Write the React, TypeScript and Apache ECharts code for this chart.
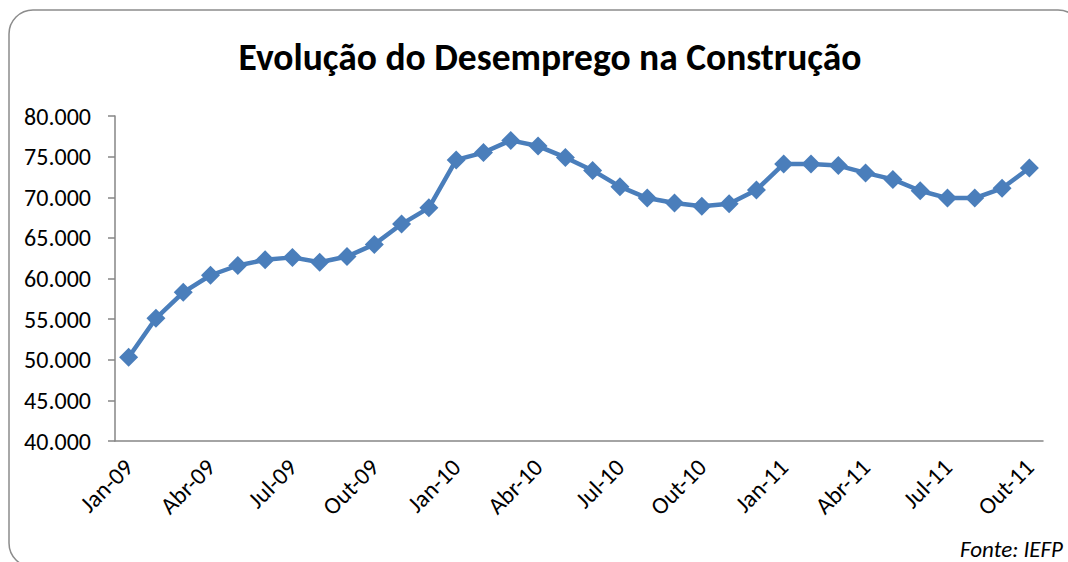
import React, { useEffect, useRef } from "react";
import * as echarts from "echarts";

const months = [
  "Jan-09","Fev-09","Mar-09","Abr-09","Mai-09","Jun-09","Jul-09","Ago-09","Set-09","Out-09","Nov-09","Dez-09",
  "Jan-10","Fev-10","Mar-10","Abr-10","Mai-10","Jun-10","Jul-10","Ago-10","Set-10","Out-10","Nov-10","Dez-10",
  "Jan-11","Fev-11","Mar-11","Abr-11","Mai-11","Jun-11","Jul-11","Ago-11","Set-11","Out-11",
];

const desempregados = [
  50300, 55100, 58300, 60400, 61600, 62300, 62600, 62000, 62700, 64200, 66700, 68700,
  74600, 75500, 77000, 76300, 74900, 73300, 71300, 69900, 69300, 68900, 69200, 70900,
  74100, 74100, 73900, 73000, 72200, 70800, 69900, 69900, 71100, 73600,
];

const titleText = "Evolução do Desemprego na Construção";
const sourceText = "Fonte: IEFP";

const FONT = "Carlito, Calibri, 'Liberation Sans Narrow', 'Open Sans', sans-serif";

function fmt(v: number): string {
  return String(v).replace(/\B(?=(\d{3})+(?!\d))/g, ".");
}

export default function App() {
  const ref = useRef<HTMLDivElement>(null);
  useEffect(() => {
    if (!ref.current) return;
    const chart = echarts.init(ref.current, null, { renderer: "svg" });
    chart.setOption({
      animation: false,
      backgroundColor: "#ffffff",
      title: {
        text: titleText,
        left: 545,
        textAlign: "center",
        top: 33,
        textStyle: { fontFamily: FONT, fontSize: 37.5, fontWeight: "bold", color: "#000" },
      },
      graphic: [
        {
          type: "rect",
          shape: { x: 9, y: 10, width: 1073, height: 557, r: 24 },
          style: { fill: "none", stroke: "#8c8c8c", lineWidth: 1.5 },
          z: 0,
        },
        {
          type: "text",
          x: 1063,
          y: 537,
          style: {
            text: sourceText,
            align: "right",
            verticalAlign: "top",
            font: `italic 23px ${FONT}`,
            fill: "#000",
          },
        },
      ],
      grid: { left: 115, right: 25, top: 116, bottom: 121, containLabel: false },
      xAxis: {
        type: "category",
        data: months,
        boundaryGap: true,
        axisLine: { lineStyle: { color: "#868686", width: 1.5 } },
        axisTick: { interval: 2, length: 7, lineStyle: { color: "#868686", width: 1.5 } },
        axisLabel: {
          interval: 2,
          rotate: 45,
          fontFamily: FONT,
          fontSize: 24,
          color: "#000",
          margin: 22,
        },
        splitLine: { show: false },
      },
      yAxis: {
        type: "value",
        min: 40000,
        max: 80000,
        interval: 5000,
        axisLine: { show: true, lineStyle: { color: "#868686", width: 1.5 } },
        axisTick: { show: true, length: 7, lineStyle: { color: "#868686", width: 1.5 } },
        axisLabel: {
          formatter: (v: number) => fmt(v),
          fontFamily: FONT,
          fontSize: 24,
          color: "#000",
          margin: 24,
        },
        splitLine: { show: false },
      },
      series: [
        {
          type: "line",
          data: desempregados,
          symbol: "diamond",
          symbolSize: 19,
          showAllSymbol: true,
          lineStyle: { color: "#4a7ebb", width: 4.5 },
          itemStyle: { color: "#4a7ebb" },
        },
      ],
    });
    return () => chart.dispose();
  }, []);
  return (
    <div
      ref={ref}
      style={{ position: "absolute", left: 0, top: 0, width: 1068, height: 562 }}
    />
  );
}
